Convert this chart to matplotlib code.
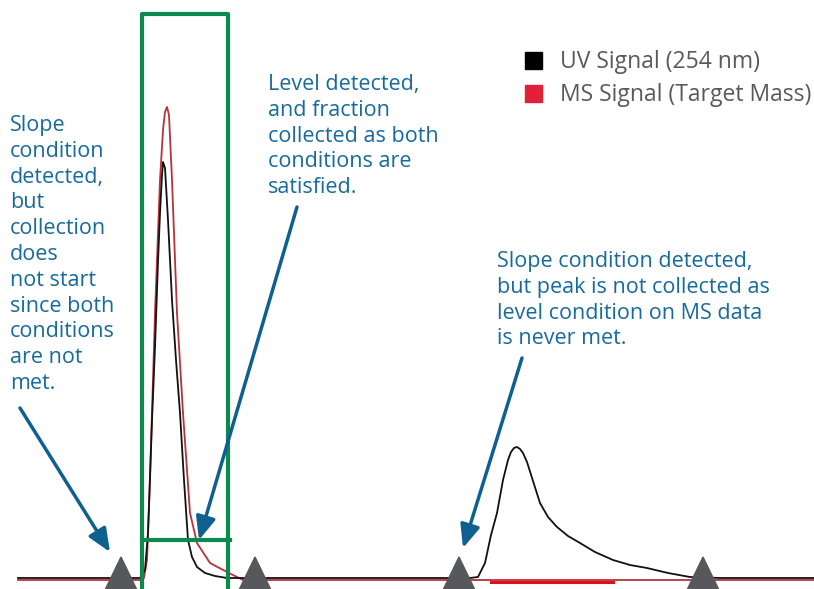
import matplotlib.pyplot as plt
import numpy as np

plt.rcParams['font.family'] = ['Open Sans', 'DejaVu Sans']

# traces in screen-like units (x: time, y: depth from top)
uv_x = [18, 140, 145, 148, 152, 155, 158, 160, 162, 163, 165, 168, 172, 176, 180, 184, 188, 192, 197,
        205, 215, 227, 240, 300, 400, 470, 478, 485, 491, 497, 503, 508, 511, 514, 517, 520, 523, 527,
        533, 540, 548, 557, 568, 580, 595, 613, 630, 647, 668, 690, 720, 814]
uv_y = [578, 578, 570, 533, 420, 347, 262, 213, 175, 162, 168, 220, 300, 360, 413, 480, 540, 557, 567,
        573, 576, 578, 578, 578, 578, 578, 577, 563, 535, 513, 480, 460, 452, 448, 447, 449, 453, 462,
        481, 503, 517, 527, 536, 543, 552, 560, 565, 568, 573, 577, 578, 578]

ms_x = [18, 140, 144, 147, 150, 155, 160, 163, 165, 167, 169, 172, 177, 183, 190, 197, 210, 227,
        243, 300, 814]
ms_y = [580, 580, 578, 560, 480, 313, 180, 130, 112, 107, 115, 180, 313, 413, 513, 543, 563, 572,
        580, 580, 580]

# MS level-only segment on the second peak
ms_seg_x = [491, 613]
ms_seg_y = [582, 582]

marker_x = [121, 255, 459, 703]

uv_color = '#111111'
ms_color = '#b8323a'
green = '#0b8a4e'
blue = '#176a9c'
arrow_blue = '#10608f'

fig = plt.figure(figsize=(8.14, 5.89), dpi=100)
ax = fig.add_axes([0, 0, 1, 1])
ax.set_xlim(0, 814)
ax.set_ylim(589, 0)
ax.axis('off')

ax.plot(ms_x, ms_y, color=ms_color, lw=1.3, zorder=2)
ax.plot(ms_seg_x, ms_seg_y, color='#e0101a', lw=2.2, zorder=2)
ax.plot(uv_x, uv_y, color=uv_color, lw=1.3, zorder=3)

# collection window
ax.plot([142, 142, 228, 228], [589, 14, 14, 589], color=green, lw=3, zorder=4)
ax.plot([142, 230], [540, 540], color=green, lw=3, zorder=4)

# slope markers
for mx in marker_x:
    ax.add_patch(plt.Polygon([[mx - 16, 590], [mx, 557], [mx + 16, 590]],
                             closed=True, color='#57585b', zorder=5))

# annotation arrows
arrows = [((20, 408), (110, 552)), ((297, 207), (199, 540)), ((522, 358), (463, 548))]
for (x0, y0), (x1, y1) in arrows:
    ax.annotate('', xy=(x1, y1), xytext=(x0, y0),
                arrowprops=dict(arrowstyle='-|>,head_length=1.4,head_width=0.6',
                                color=arrow_blue, lw=2.5, shrinkA=0, shrinkB=0), zorder=6)

fs = 15.5
ls = 1.30
ax.text(10, 115, 'Slope\ncondition\ndetected,\nbut\ncollection\ndoes\nnot start\nsince both\nconditions\nare not\nmet.',
        color=blue, fontsize=fs, va='top', ha='left', linespacing=ls)
ax.text(268, 74, 'Level detected,\nand fraction\ncollected as both\nconditions are\nsatisfied.',
        color=blue, fontsize=fs, va='top', ha='left', linespacing=ls)
ax.text(497, 251, 'Slope condition detected,\nbut peak is not collected as\nlevel condition on MS data\nis never met.',
        color=blue, fontsize=fs, va='top', ha='left', linespacing=ls)

# legend
ax.add_patch(plt.Rectangle((525, 52), 17, 17, color='#000000'))
ax.add_patch(plt.Rectangle((525, 85), 17, 17, color='#e2203a'))
ax.text(560, 62, 'UV Signal (254 nm)', color='#58595b', fontsize=16.5, va='center', ha='left')
ax.text(560, 95, 'MS Signal (Target Mass)', color='#58595b', fontsize=16.5, va='center', ha='left')

fig.savefig('out.png', dpi=100)
